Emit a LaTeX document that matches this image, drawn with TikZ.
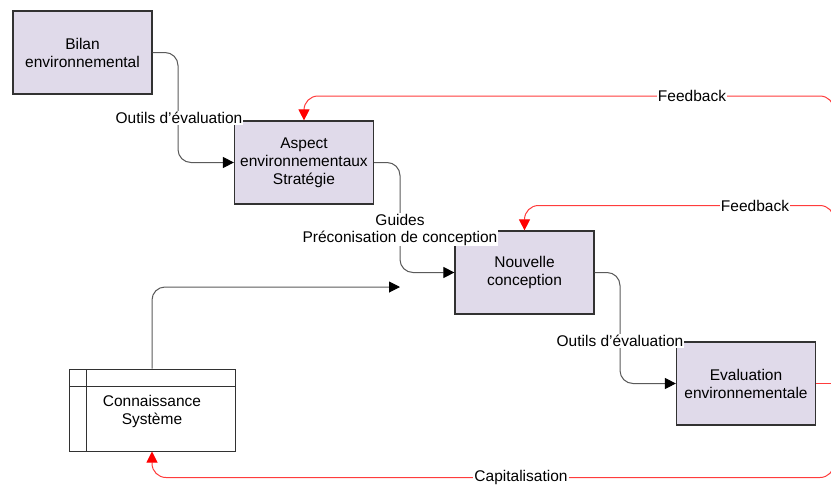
\documentclass[tikz,border=0pt]{standalone}
\usepackage{fontspec}
\setmainfont{Liberation Sans}
\usetikzlibrary{arrows.meta}
\definecolor{boxfill}{RGB}{224,218,234}
\definecolor{boxline}{RGB}{50,50,50}
\definecolor{conn}{RGB}{90,90,90}
\definecolor{fbred}{RGB}{255,60,60}
\tikzset{
  procbox/.style={draw=boxline, line width=1.2pt, fill=boxfill, minimum width=139pt, minimum height=83pt, align=center, font=\fontsize{15.5}{18}\selectfont, inner sep=0pt},
  flow/.style={draw=conn, line width=1pt, rounded corners=13pt, -{Triangle[length=11pt,width=11pt,fill=black,color=black]}},
  fbline/.style={draw=fbred, line width=1pt},
  fb/.style={fbline, rounded corners=14pt, -{Triangle[length=11pt,width=11pt,fill=red,color=red]}},
  lbl/.style={fill=white, inner sep=1pt, align=center, font=\fontsize{15.5}{17}\selectfont}
}
\begin{document}
\begin{tikzpicture}[x=1pt,y=-1pt]
\useasboundingbox (0,0) rectangle (831,485);
% boxes
\node[procbox] (bilan) at (82.5,52.5) {Bilan\\environnemental};
\node[procbox] (asp) at (304,162.5) {Aspect\\environnementaux\\Stratégie};
\node[procbox] (nouv) at (524.5,272.5) {Nouvelle\\conception};
\node[procbox] (eval) at (746,383.5) {Evaluation\\environnementale};
% store box
\node[draw=boxline, line width=1pt, fill=white, minimum width=166pt, minimum height=82pt, inner sep=0pt] (conn) at (152,410) {};
\draw[boxline, line width=1pt] (86,369) -- (86,451) (69,386) -- (235,386);
\node[align=center, font=\fontsize{15.5}{18}\selectfont] (conntxt) at (152,411) {Connaissance\\Système};
% coordinates
\coordinate (b1) at (178,52.5);
\coordinate (b2) at (400,162.5);
\coordinate (b3) at (620,272.5);
\coordinate (cin) at (400,287);
\coordinate (tr) at (834,383.5);
% black flows
\draw[flow] (bilan.east) -- (b1) |- (asp.west);
\draw[flow] (asp.east) -- (b2) |- (nouv.west);
\draw[flow] (nouv.east) -- (b3) |- (eval.west);
\draw[flow] (conn.north) |- (cin);
% red feedback
\draw[fbline] (eval.east) -- (tr);
\draw[fb] (tr) -- (834,96) -| (asp.north);
\draw[fb] (tr) -- (834,205.5) -| (nouv.north);
\draw[fb] (tr) -- (834,477.5) -| (conn.south);
% labels
\node[lbl] (l1) at (179,118) {Outils d’évaluation};
\node[lbl] (l2) at (400,229.5) {Guides\\Préconisation de conception};
\node[lbl] (l3) at (620,341) {Outils d’évaluation};
\node[lbl] (f1) at (692,96) {Feedback};
\node[lbl] (f2) at (755,205.5) {Feedback};
\node[lbl] (cap) at (521,477.5) {Capitalisation};
\end{tikzpicture}
\end{document}
